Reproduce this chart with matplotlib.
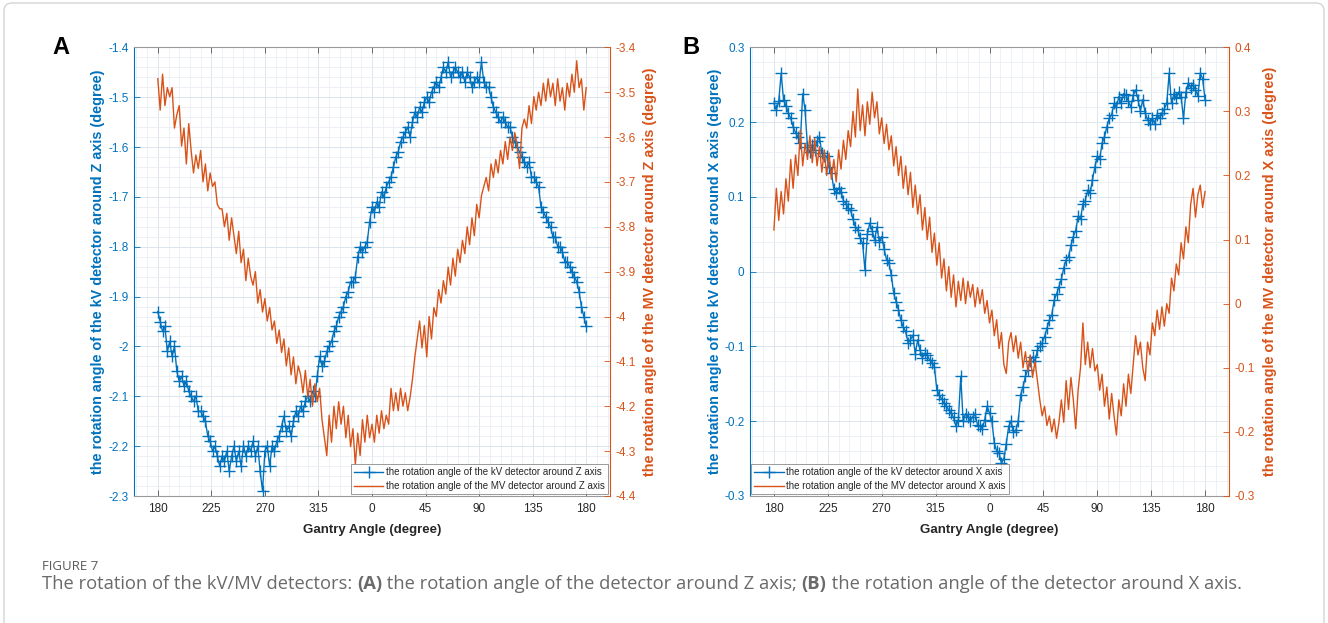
import numpy as np
import matplotlib
matplotlib.use('Agg')
import matplotlib.pyplot as plt
from matplotlib.ticker import MultipleLocator, FixedLocator
from matplotlib.lines import Line2D
from matplotlib.patches import FancyBboxPatch
from matplotlib.transforms import IdentityTransform

# ---------------- data ----------------
# unwrapped gantry angle (180 -> 360/0 -> 180), one sample every 2 degrees
angles = np.arange(180, 541, 2)
xtick_pos = [180, 225, 270, 315, 360, 405, 450, 495, 540]
xtick_labels = ['180', '225', '270', '315', '0', '45', '90', '135', '180']

kv_z = [-1.93, -1.95, -1.97, -1.96, -2.01, -1.99, -2.02, -2.00, -2.05, -2.07,
        -2.06, -2.08, -2.07, -2.09, -2.10, -2.11, -2.10, -2.13, -2.13, -2.14,
        -2.15, -2.18, -2.19, -2.21, -2.20, -2.22, -2.24, -2.22, -2.23, -2.21,
        -2.25, -2.22, -2.20, -2.23, -2.21, -2.24, -2.20, -2.22, -2.20, -2.21,
        -2.19, -2.22, -2.20, -2.25, -2.29, -2.21, -2.20, -2.24, -2.20, -2.21,
        -2.19, -2.18, -2.16, -2.14, -2.17, -2.16, -2.18, -2.15, -2.13, -2.14,
        -2.12, -2.13, -2.11, -2.10, -2.11, -2.09, -2.10, -2.06, -2.02, -2.04,
        -2.03, -2.01, -2.00, -1.99, -1.97, -1.96, -1.94, -1.93, -1.92, -1.90,
        -1.89, -1.87, -1.87, -1.86, -1.82, -1.80, -1.81, -1.80, -1.79, -1.75,
        -1.72, -1.73, -1.71, -1.72, -1.69, -1.70, -1.68, -1.67, -1.66, -1.64,
        -1.62, -1.61, -1.59, -1.58, -1.57, -1.56, -1.58, -1.55, -1.53, -1.54,
        -1.52, -1.53, -1.51, -1.50, -1.51, -1.49, -1.48, -1.47, -1.48, -1.46,
        -1.44, -1.45, -1.43, -1.46, -1.45, -1.44, -1.45, -1.46, -1.45, -1.47,
        -1.45, -1.46, -1.48, -1.47, -1.46, -1.47, -1.43, -1.47, -1.48, -1.48,
        -1.50, -1.52, -1.53, -1.54, -1.55, -1.54, -1.55, -1.56, -1.56, -1.58,
        -1.59, -1.60, -1.61, -1.62, -1.63, -1.64, -1.63, -1.66, -1.66, -1.67,
        -1.68, -1.72, -1.73, -1.74, -1.75, -1.76, -1.78, -1.78, -1.80, -1.80,
        -1.81, -1.83, -1.83, -1.84, -1.85, -1.86, -1.87, -1.89, -1.92, -1.94,
        -1.96]

mv_z = [-3.47, -3.54, -3.46, -3.53, -3.49, -3.51, -3.49, -3.58, -3.55, -3.53,
        -3.62, -3.58, -3.66, -3.57, -3.63, -3.68, -3.64, -3.67, -3.63, -3.70,
        -3.66, -3.72, -3.68, -3.71, -3.70, -3.75, -3.76, -3.76, -3.80, -3.77,
        -3.83, -3.78, -3.82, -3.86, -3.81, -3.88, -3.85, -3.92, -3.87, -3.91,
        -3.93, -3.90, -3.97, -3.94, -3.99, -3.96, -4.01, -3.98, -4.03, -4.01,
        -4.06, -4.03, -4.08, -4.05, -4.11, -4.07, -4.13, -4.09, -4.15, -4.11,
        -4.13, -4.17, -4.12, -4.18, -4.14, -4.20, -4.15, -4.19, -4.16, -4.23,
        -4.27, -4.31, -4.22, -4.28, -4.20, -4.25, -4.19, -4.24, -4.20, -4.27,
        -4.22, -4.29, -4.25, -4.33, -4.26, -4.31, -4.23, -4.28, -4.22, -4.27,
        -4.24, -4.28, -4.22, -4.26, -4.21, -4.25, -4.22, -4.24, -4.16, -4.21,
        -4.17, -4.21, -4.16, -4.20, -4.17, -4.21, -4.18, -4.14, -4.09, -4.05,
        -4.01, -4.07, -4.02, -4.09, -4.00, -4.05, -3.98, -4.00, -3.94, -3.97,
        -3.92, -3.95, -3.89, -3.93, -3.87, -3.91, -3.85, -3.88, -3.83, -3.86,
        -3.80, -3.84, -3.78, -3.82, -3.75, -3.78, -3.73, -3.71, -3.69, -3.72,
        -3.66, -3.69, -3.65, -3.68, -3.63, -3.66, -3.61, -3.65, -3.60, -3.63,
        -3.59, -3.62, -3.67, -3.58, -3.56, -3.58, -3.53, -3.57, -3.51, -3.54,
        -3.50, -3.53, -3.48, -3.52, -3.47, -3.51, -3.48, -3.53, -3.47, -3.52,
        -3.49, -3.54, -3.48, -3.51, -3.46, -3.50, -3.43, -3.49, -3.47, -3.54,
        -3.49]

kv_x = [0.225, 0.216, 0.228, 0.265, 0.230, 0.222, 0.212, 0.205, 0.194, 0.186,
        0.180, 0.172, 0.238, 0.216, 0.167, 0.160, 0.170, 0.163, 0.175, 0.180,
        0.158, 0.155, 0.154, 0.140, 0.132, 0.110, 0.105, 0.112, 0.107, 0.095,
        0.091, 0.085, 0.082, 0.070, 0.060, 0.056, 0.045, 0.038, 0.002, 0.050,
        0.065, 0.055, 0.042, 0.060, 0.040, 0.047, 0.030, 0.016, 0.012, -0.005,
        -0.029, -0.040, -0.051, -0.065, -0.074, -0.080, -0.095, -0.091, -0.085, -0.110,
        -0.091, -0.105, -0.115, -0.109, -0.112, -0.118, -0.122, -0.127, -0.158, -0.165,
        -0.170, -0.176, -0.180, -0.185, -0.189, -0.195, -0.207, -0.198, -0.140, -0.200,
        -0.190, -0.194, -0.200, -0.194, -0.190, -0.205, -0.207, -0.210, -0.198, -0.180,
        -0.189, -0.200, -0.229, -0.240, -0.243, -0.256, -0.250, -0.230, -0.207, -0.200,
        -0.215, -0.212, -0.200, -0.165, -0.154, -0.140, -0.131, -0.120, -0.114, -0.120,
        -0.105, -0.100, -0.095, -0.087, -0.075, -0.065, -0.058, -0.038, -0.030, -0.020,
        -0.010, 0.005, 0.016, 0.020, 0.035, 0.047, 0.055, 0.074, 0.070, 0.091,
        0.095, 0.109, 0.105, 0.123, 0.140, 0.154, 0.150, 0.172, 0.180, 0.194,
        0.205, 0.210, 0.225, 0.220, 0.234, 0.225, 0.238, 0.236, 0.228, 0.220,
        0.236, 0.243, 0.230, 0.215, 0.230, 0.212, 0.203, 0.198, 0.205, 0.198,
        0.210, 0.205, 0.212, 0.218, 0.225, 0.265, 0.225, 0.238, 0.232, 0.240,
        0.234, 0.205, 0.240, 0.252, 0.246, 0.250, 0.243, 0.235, 0.265, 0.258,
        0.230]

mv_x = [0.115, 0.180, 0.130, 0.175, 0.140, 0.195, 0.160, 0.225, 0.180, 0.232,
        0.200, 0.271, 0.215, 0.250, 0.225, 0.262, 0.220, 0.258, 0.215, 0.245,
        0.205, 0.240, 0.200, 0.235, 0.195, 0.225, 0.190, 0.240, 0.210, 0.255,
        0.225, 0.270, 0.245, 0.300, 0.260, 0.335, 0.270, 0.310, 0.262, 0.315,
        0.280, 0.330, 0.290, 0.315, 0.265, 0.290, 0.250, 0.280, 0.240, 0.262,
        0.215, 0.245, 0.200, 0.230, 0.180, 0.215, 0.170, 0.205, 0.150, 0.185,
        0.140, 0.170, 0.115, 0.150, 0.100, 0.135, 0.080, 0.110, 0.060, 0.095,
        0.040, 0.070, 0.020, 0.058, 0.010, 0.045, -0.005, 0.035, 0.005, 0.040,
        0.000, 0.035, 0.010, 0.030, -0.005, 0.025, 0.000, 0.022, -0.015, 0.005,
        -0.030, -0.010, -0.050, -0.025, -0.070, -0.045, -0.095, -0.109, -0.060, -0.045,
        -0.075, -0.050, -0.085, -0.060, -0.100, -0.075, -0.105, -0.080, -0.115, -0.090,
        -0.120, -0.150, -0.175, -0.160, -0.190, -0.175, -0.200, -0.180, -0.210, -0.185,
        -0.150, -0.185, -0.120, -0.165, -0.115, -0.150, -0.195, -0.135, -0.100, -0.030,
        -0.095, -0.060, -0.100, -0.070, -0.105, -0.095, -0.135, -0.110, -0.160, -0.130,
        -0.180, -0.140, -0.175, -0.205, -0.150, -0.175, -0.125, -0.160, -0.110, -0.140,
        -0.095, -0.050, -0.080, -0.060, -0.100, -0.120, -0.060, -0.080, -0.030, -0.050,
        -0.010, -0.040, -0.005, -0.035, 0.000, -0.015, 0.040, 0.020, 0.062, 0.045,
        0.095, 0.070, 0.120, 0.095, 0.155, 0.180, 0.135, 0.170, 0.185, 0.150,
        0.175]

ytick_a_left = [-2.3, -2.2, -2.1, -2.0, -1.9, -1.8, -1.7, -1.6, -1.5, -1.4]
ytick_a_left_lab = ['-2.3', '-2.2', '-2.1', '-2', '-1.9', '-1.8', '-1.7', '-1.6', '-1.5', '-1.4']
ytick_a_right = [-4.4, -4.3, -4.2, -4.1, -4.0, -3.9, -3.8, -3.7, -3.6, -3.5, -3.4]
ytick_a_right_lab = ['-4.4', '-4.3', '-4.2', '-4.1', '-4', '-3.9', '-3.8', '-3.7', '-3.6', '-3.5', '-3.4']
ytick_b_left = [-0.3, -0.2, -0.1, 0.0, 0.1, 0.2, 0.3]
ytick_b_left_lab = ['-0.3', '-0.2', '-0.1', '0', '0.1', '0.2', '0.3']
ytick_b_right = [-0.3, -0.2, -0.1, 0.0, 0.1, 0.2, 0.3, 0.4]
ytick_b_right_lab = ['-0.3', '-0.2', '-0.1', '0', '0.1', '0.2', '0.3', '0.4']

BLUE = '#0072BD'
ORANGE = '#D95319'
TXT = '#262626'

plt.rcParams['font.family'] = ['Liberation Sans', 'DejaVu Sans']

W, H = 1328, 623
fig = plt.figure(figsize=(W / 100, H / 100), dpi=100)
fig.patch.set_facecolor('white')

# outer rounded frame
frame = FancyBboxPatch((4, -20), 1320, 623 - 3 + 20,
                       boxstyle='round,pad=0,rounding_size=8',
                       transform=IdentityTransform(), facecolor='none',
                       edgecolor='#d4d4d4', linewidth=1.0, zorder=0)
fig.patches.append(frame)


def panel(px_left, px_right, kv, mv, yl, yr, ytl, ytl_lab, ytr, ytr_lab,
          lab_l, lab_r, leg_labels, leg_anchor, leg_loc, letter, letter_x,
          lab_lx, lab_rx):
    top, bot = 47.3, 496.0
    rect = [px_left / W, 1 - bot / H, (px_right - px_left) / W, (bot - top) / H]
    ax = fig.add_axes(rect)
    ax2 = ax.twinx()

    ax.set_xlim(160, 560)
    ax.set_ylim(*yl)
    ax2.set_ylim(*yr)

    ax.xaxis.set_major_locator(FixedLocator(xtick_pos))
    ax.set_xticklabels(xtick_labels)
    ax.xaxis.set_minor_locator(MultipleLocator(9))
    ax.yaxis.set_major_locator(FixedLocator(ytl))
    ax.set_yticklabels(ytl_lab)
    ax.yaxis.set_minor_locator(MultipleLocator(0.02))
    ax2.yaxis.set_major_locator(FixedLocator(ytr))
    ax2.set_yticklabels(ytr_lab)

    ax.set_axisbelow(True)
    ax.grid(which='major', color='#dde5ec', linewidth=0.7)
    ax.grid(which='minor', color='#eaeff4', linewidth=0.6)

    ax.tick_params(axis='x', which='major', direction='in', length=4, width=0.6,
                   top=True, bottom=True, colors='#555555', labelcolor=TXT,
                   labelsize=8.5, pad=5)
    ax.tick_params(axis='y', which='major', direction='in', length=4, width=0.6,
                   left=True, right=False, colors=BLUE, labelsize=8.5, pad=4)
    ax.tick_params(which='minor', length=0)
    ax2.tick_params(axis='y', which='major', direction='in', length=4, width=0.6,
                    colors=ORANGE, labelsize=8.5, pad=4)

    for s in ('top', 'bottom'):
        ax.spines[s].set_color('#9a9a9a')
        ax.spines[s].set_linewidth(0.8)
        ax2.spines[s].set_visible(False)
    ax.spines['left'].set_color(BLUE)
    ax.spines['left'].set_linewidth(0.8)
    ax.spines['right'].set_visible(False)
    ax2.spines['left'].set_visible(False)
    ax2.spines['right'].set_color(ORANGE)
    ax2.spines['right'].set_linewidth(0.8)

    ax.plot(angles, kv, color=BLUE, linewidth=1.0, marker='+',
            markersize=9, markeredgewidth=1.0, zorder=3)
    ax2.plot(angles, mv, color=ORANGE, linewidth=1.0, zorder=2)

    ax.set_ylabel(lab_l, color=BLUE, fontsize=10.4, fontweight='bold')
    ax.yaxis.set_label_coords(lab_lx, 0.5)
    ax2.set_ylabel(lab_r, color=ORANGE, fontsize=10.4, fontweight='bold')
    ax2.yaxis.set_label_coords(lab_rx, 0.5)
    ax.set_xlabel('Gantry Angle (degree)', color=TXT, fontsize=9.5,
                  fontweight='bold')
    ax.xaxis.set_label_coords(0.5, -0.062)

    handles = [Line2D([], [], color=BLUE, linewidth=1.0, marker='+',
                      markersize=9, markeredgewidth=1.0),
               Line2D([], [], color=ORANGE, linewidth=1.0)]
    leg = ax2.legend(handles, leg_labels, loc=leg_loc, bbox_to_anchor=leg_anchor,
                     fontsize=7.0, frameon=True, fancybox=False,
                     borderaxespad=0, handlelength=3.0, handletextpad=0.3,
                     labelspacing=0.4, borderpad=0.3, edgecolor='#808080')
    leg.get_frame().set_linewidth(0.7)
    for t in leg.get_texts():
        t.set_color(TXT)

    fig.text(letter_x / W, 1 - 47 / H, letter, fontsize=17, fontweight='bold',
             color='black', ha='left', va='center')
    return ax, ax2


panel(134, 610, kv_z, mv_z, (-2.3, -1.4), (-4.4, -3.4),
      ytick_a_left, ytick_a_left_lab, ytick_a_right, ytick_a_right_lab,
      'the rotation angle of the kV detector around Z axis (degree)',
      'the rotation angle of the MV detector around Z axis (degree)',
      ['the rotation angle of the kV detector around Z axis',
       'the rotation angle of the MV detector around Z axis'],
      (0.996, 0.004), 'lower right', 'A', 52, -0.060, 1.069)

panel(750, 1229, kv_x, mv_x, (-0.3, 0.3), (-0.3, 0.4),
      ytick_b_left, ytick_b_left_lab, ytick_b_right, ytick_b_right_lab,
      'the rotation angle of the kV detector around X axis (degree)',
      'the rotation angle of the MV detector around X axis (degree)',
      ['the rotation angle of the kV detector around X axis',
       'the rotation angle of the MV detector around X axis'],
      (0.003, 0.004), 'lower left', 'B', 682, -0.058, 1.071)

# ---------------- caption ----------------
CAP = ['Open Sans', 'DejaVu Sans']
fig.text(42 / W, 1 - 567 / H, 'FIGURE 7', fontsize=9.5, color='#5a5a5a',
         family=CAP, ha='left', va='center')

pieces = [('The rotation of the kV/MV detectors: ', 'normal'),
          ('(A)', 'bold'),
          (' the rotation angle of the detector around Z axis; ', 'normal'),
          ('(B)', 'bold'),
          (' the rotation angle of the detector around X axis.', 'normal')]

fig.canvas.draw()
renderer = fig.canvas.get_renderer()


def place_caption(size):
    x = 42.0
    objs = []
    for txt, wt in pieces:
        t = fig.text(x / W, 1 - 584 / H, txt, fontsize=size, color='#6a6a6a',
                     family=CAP, fontweight=wt, ha='left', va='center')
        bb = t.get_window_extent(renderer)
        x += bb.width
        objs.append(t)
    return objs, x


objs, xend = place_caption(11.5)
target = 1248.0
scale = (target - 42.0) / (xend - 42.0)
for o in objs:
    o.remove()
place_caption(11.5 * scale)

fig.savefig('out.png', dpi=100, facecolor='white')
